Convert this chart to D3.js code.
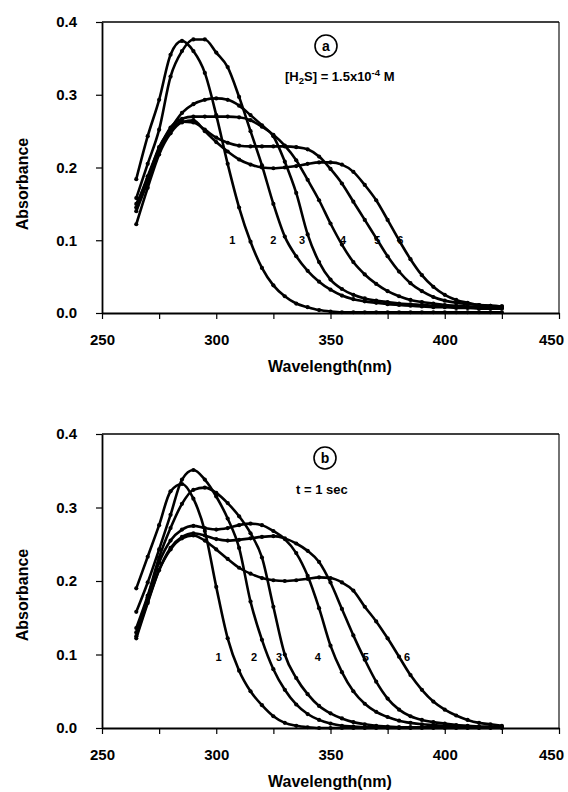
<!DOCTYPE html>
<html>
<head>
<meta charset="utf-8">
<script src="https://cdn.jsdelivr.net/npm/d3@7"></script>
<style>
  body { margin: 0; background: #fff; }
  svg text { font-family: "Liberation Sans", Arial, sans-serif; font-weight: bold; fill: #000; }
</style>
</head>
<body>
<div id="chart"></div>
<script>
// wavelengths (nm) shared by all spectra
var wavelengths = [265,270,275,280,285,290,295,300,305,310,315,320,325,330,335,340,345,350,355,360,365,370,375,380,385,390,395,400,405,410,415,420,425];

// panel a : [H2S] = 1.5x10-4 M
var a1 = [0.184,0.243,0.293,0.355,0.374,0.360,0.330,0.272,0.205,0.145,0.098,0.062,0.038,0.023,0.013,0.008,0.004,0.002,0.001,0.001,0.001,0.001,0.001,0.001,0.001,0.001,0.001,0.001,0.001,0.001,0.001,0.001,0.001];
var a2 = [0.158,0.205,0.252,0.325,0.360,0.376,0.376,0.358,0.338,0.297,0.250,0.203,0.150,0.105,0.078,0.058,0.043,0.032,0.024,0.019,0.016,0.014,0.012,0.011,0.010,0.009,0.008,0.008,0.007,0.007,0.006,0.006,0.006];
var a3 = [0.150,0.185,0.228,0.253,0.275,0.287,0.293,0.295,0.293,0.285,0.272,0.258,0.243,0.208,0.165,0.108,0.070,0.046,0.033,0.025,0.020,0.017,0.015,0.013,0.012,0.011,0.010,0.009,0.008,0.008,0.007,0.007,0.007];
var a4 = [0.145,0.188,0.226,0.255,0.267,0.270,0.270,0.270,0.270,0.269,0.265,0.256,0.245,0.230,0.210,0.183,0.155,0.123,0.094,0.070,0.053,0.040,0.030,0.023,0.018,0.015,0.013,0.011,0.010,0.009,0.008,0.008,0.008];
var a5 = [0.140,0.180,0.222,0.250,0.263,0.262,0.252,0.241,0.234,0.230,0.229,0.229,0.229,0.229,0.228,0.225,0.215,0.198,0.178,0.153,0.128,0.103,0.078,0.057,0.041,0.030,0.022,0.017,0.014,0.012,0.011,0.010,0.009];
var a6 = [0.122,0.172,0.218,0.247,0.262,0.265,0.250,0.235,0.222,0.211,0.204,0.200,0.199,0.200,0.202,0.205,0.207,0.207,0.204,0.194,0.176,0.155,0.128,0.100,0.074,0.052,0.036,0.025,0.018,0.014,0.011,0.010,0.009];

// panel b : t = 1 sec
var b1 = [0.190,0.233,0.276,0.322,0.332,0.312,0.268,0.192,0.122,0.078,0.050,0.031,0.016,0.007,0.003,0.001,0,0,0,0,0,0,0,0,0,0,0,0,0,0,0,0,0];
var b2 = [0.158,0.198,0.243,0.290,0.338,0.351,0.338,0.315,0.285,0.245,0.172,0.120,0.080,0.052,0.032,0.019,0.011,0.006,0.003,0.002,0.001,0.001,0.001,0.001,0.001,0.001,0.001,0.001,0.001,0.001,0.001,0.001,0.001];
var b3 = [0.136,0.180,0.232,0.272,0.305,0.324,0.327,0.320,0.306,0.288,0.265,0.232,0.165,0.100,0.068,0.046,0.030,0.020,0.013,0.008,0.005,0.003,0.002,0.001,0.001,0.001,0.001,0.001,0.001,0.001,0.001,0.001,0.001];
var b4 = [0.130,0.178,0.225,0.255,0.270,0.275,0.272,0.270,0.272,0.276,0.278,0.276,0.268,0.257,0.238,0.207,0.163,0.112,0.076,0.050,0.033,0.022,0.015,0.010,0.007,0.005,0.004,0.003,0.002,0.002,0.001,0.001,0.001];
var b5 = [0.122,0.170,0.215,0.245,0.260,0.265,0.262,0.257,0.255,0.256,0.258,0.260,0.261,0.258,0.251,0.241,0.226,0.198,0.162,0.126,0.093,0.063,0.040,0.025,0.016,0.011,0.008,0.006,0.004,0.003,0.002,0.002,0.001];
var b6 = [0.125,0.172,0.215,0.243,0.258,0.262,0.255,0.243,0.230,0.218,0.210,0.204,0.201,0.200,0.201,0.203,0.205,0.204,0.198,0.187,0.165,0.145,0.122,0.097,0.072,0.052,0.036,0.025,0.017,0.011,0.007,0.005,0.003];

// curve number labels (nm position, absorbance position)
var curveNames = ["1","2","3","4","5","6"];
var labelNmA = [307, 325, 337.5, 355.5, 370.5, 380.5];
var labelNmB = [301, 316.5, 327.5, 344.5, 365.5, 383.5];

var xTicks = [250,275,300,325,350,375,400,425,450];
var yTicks = [0, 0.1, 0.2, 0.3, 0.4];

var width = 568, height = 792;
var svg = d3.select("#chart").append("svg")
  .attr("width", width)
  .attr("height", height);

function drawPanel(opt) {
  var x = d3.scaleLinear().domain([250, 450]).range([102, 559]);
  var y = d3.scaleLinear().domain([0, 0.4]).range([opt.bottom, opt.top]);
  var g = svg.append("g");

  // frame (top + right thin)
  g.append("line").attr("x1", 102).attr("x2", 559).attr("y1", opt.top).attr("y2", opt.top)
    .attr("stroke", "#000").attr("stroke-width", 1.3);
  g.append("line").attr("x1", 559).attr("x2", 559).attr("y1", opt.top).attr("y2", opt.bottom)
    .attr("stroke", "#000").attr("stroke-width", 1.1);

  var xAxis = d3.axisBottom(x).tickValues(xTicks).tickSize(6).tickSizeOuter(0).tickPadding(15)
    .tickFormat(function(d) { return d % 50 === 0 ? d : ""; });
  var gx = g.append("g").attr("transform", "translate(0," + opt.bottom + ")").call(xAxis);
  // last label sits inside the page, as in the print
  gx.selectAll(".tick text").filter(function(d) { return d === 450; }).attr("dx", -8);

  var yAxis = d3.axisLeft(y).tickValues(yTicks).tickSize(6).tickSizeOuter(0).tickPadding(19)
    .tickFormat(d3.format(".1f"));
  var gy = g.append("g").attr("transform", "translate(102,0)").call(yAxis);

  [gx, gy].forEach(function(a) {
    a.select(".domain").attr("stroke-width", 1.8);
    a.selectAll(".tick line").attr("stroke-width", 1.2);
    a.selectAll("text").attr("font-size", 15).attr("font-family", null).attr("fill", "#000");
  });

  var line = d3.line()
    .x(function(d, i) { return x(wavelengths[i]); })
    .y(function(d) { return y(d); })
    .curve(d3.curveMonotoneX);

  opt.series.forEach(function(s) {
    g.append("path").datum(s)
      .attr("d", line)
      .attr("fill", "none")
      .attr("stroke", "#000")
      .attr("stroke-width", 2.6);
    g.selectAll(null).data(s).enter().append("circle")
      .attr("cx", function(d, i) { return x(wavelengths[i]); })
      .attr("cy", function(d) { return y(d); })
      .attr("r", 2.1)
      .attr("fill", "#000");
  });

  // curve numbers
  g.selectAll(null).data(curveNames).enter().append("text")
    .attr("x", function(d, i) { return x(opt.labelNm[i]); })
    .attr("y", y(opt.labelA))
    .attr("text-anchor", "middle")
    .attr("dominant-baseline", "central")
    .attr("font-size", 11)
    .text(function(d) { return d; });

  // circled panel letter
  g.append("circle").attr("cx", opt.badge[0]).attr("cy", opt.badge[1]).attr("r", 11)
    .attr("fill", "#fff").attr("stroke", "#000").attr("stroke-width", 1.6);
  g.append("text").attr("x", opt.badge[0]).attr("y", opt.badge[1])
    .attr("text-anchor", "middle").attr("dominant-baseline", "central")
    .attr("font-size", 14).text(opt.letter);

  // axis titles
  g.append("text")
    .attr("x", 330).attr("y", opt.bottom + 59)
    .attr("text-anchor", "middle").attr("font-size", 16)
    .text("Wavelength(nm)");
  g.append("text")
    .attr("transform", "translate(28," + opt.titleY + ") rotate(-90)")
    .attr("text-anchor", "middle").attr("font-size", 16)
    .text("Absorbance");

  return g;
}

var ga = drawPanel({ top: 22, bottom: 313, series: [a1, a2, a3, a4, a5, a6],
  labelNm: labelNmA, labelA: 0.1, badge: [326, 46], letter: "a", titleY: 184 });
var gb = drawPanel({ top: 434, bottom: 728, series: [b1, b2, b3, b4, b5, b6],
  labelNm: labelNmB, labelA: 0.097, badge: [325, 458], letter: "b", titleY: 595 });

// condition notes
var note = ga.append("text").attr("x", 285).attr("y", 81).attr("font-size", 13);
note.append("tspan").text("[H");
note.append("tspan").attr("font-size", 9.5).attr("dy", 3).text("2");
note.append("tspan").attr("dy", -3).text("S] = 1.5x10");
note.append("tspan").attr("font-size", 9.5).attr("dy", -5).text("-4");
note.append("tspan").attr("dy", 5).text(" M");

gb.append("text").attr("x", 296).attr("y", 494).attr("font-size", 13).text("t = 1 sec");
</script>
</body>
</html>
